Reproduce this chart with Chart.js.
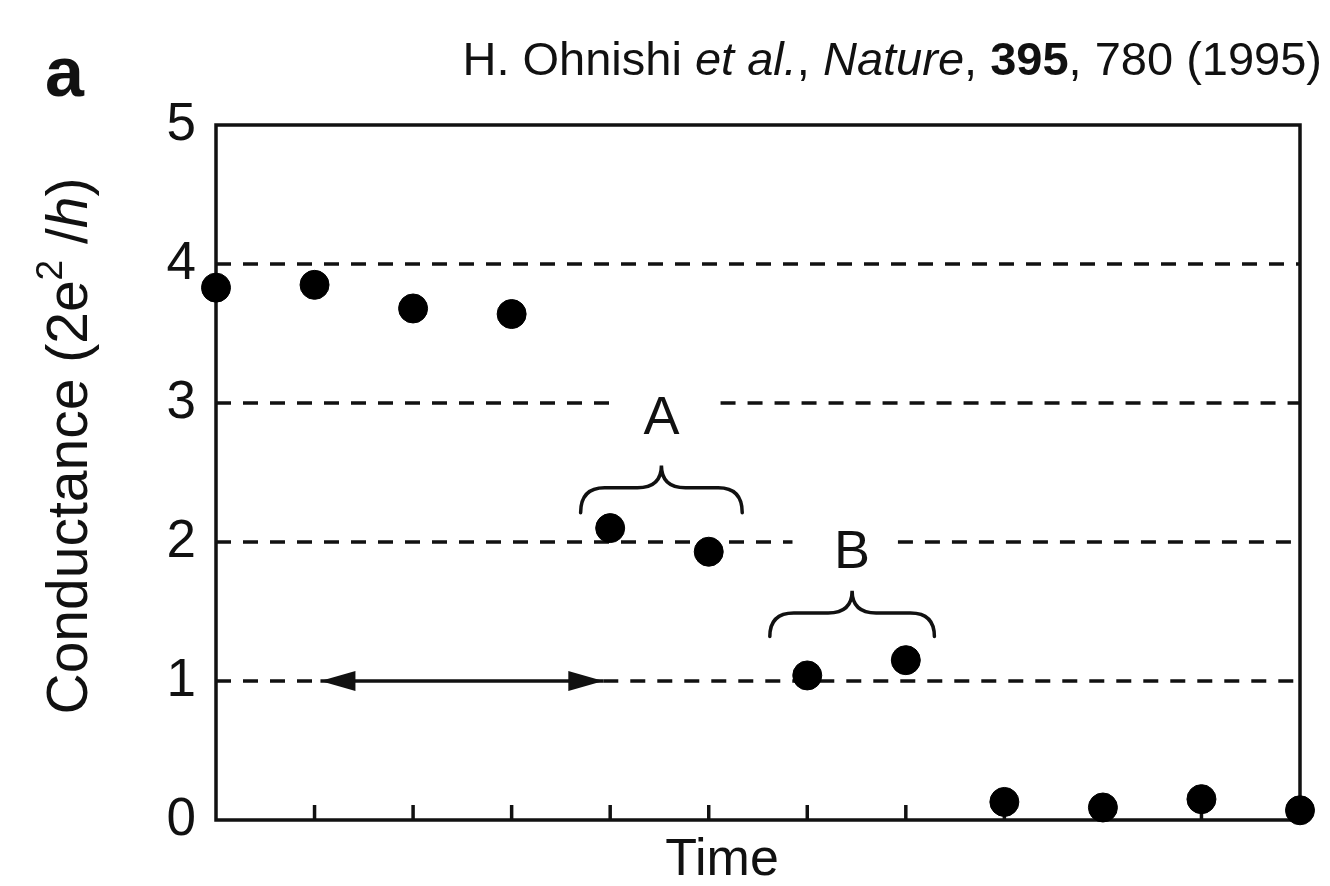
<!DOCTYPE html>
<html>
<head>
<meta charset="utf-8">
<script src="https://cdn.jsdelivr.net/npm/chart.js@4.4.1/dist/chart.umd.min.js"></script>
<style>
    html, body { margin: 0; padding: 0; background: #fff; }
    #wrap { width: 1330px; height: 886px; }
</style>
</head>
<body>
<div id="wrap"><canvas id="conductanceChart" width="1330" height="886"></canvas></div>
<script>
// values
const timeSteps = [0, 1, 2, 3, 4, 5, 6, 7, 8, 9, 10, 11];
const conductance = [3.83, 3.85, 3.68, 3.64, 2.10, 1.93, 1.04, 1.15, 0.13, 0.09, 0.15, 0.07];
const yTickValues = [0, 1, 2, 3, 4, 5];
const xTickValues = [1, 2, 3, 4, 5, 6, 7, 8, 9, 10];
const plateauLevels = [1, 2, 3, 4];

// dashed plateau segments per level (x in time units), gaps leave room for labels / arrow
const plateauSegments = {
    1: [[0, 1.06], [3.93, 11]],
    2: [[0, 5.85], [6.92, 11]],
    3: [[0, 4.05], [5.12, 11]],
    4: [[0, 11]]
};
const arrowSpan = [1.06, 3.93];
const arrowLevel = 1;

// braces and their labels, in data units
const braces = [
    { label: 'A', x0: 3.70, x1: 5.34, yEnd: 2.21, yMid: 2.39, yTip: 2.55, textY: 2.78 },
    { label: 'B', x0: 5.62, x1: 7.29, yEnd: 1.32, yMid: 1.49, yTip: 1.65, textY: 1.81 }
];

const FONT = '"Liberation Sans", Arial, Helvetica, sans-serif';
const INK = '#111111';

const datasets = [];
plateauLevels.forEach(function (level) {
    plateauSegments[level].forEach(function (seg) {
        datasets.push({
            type: 'line',
            data: [{ x: seg[0], y: level }, { x: seg[1], y: level }],
            borderColor: INK,
            borderWidth: 3.5,
            borderDash: [15, 12],
            pointRadius: 0,
            order: 2
        });
    });
});
datasets.push({
    type: 'line',
    data: [{ x: arrowSpan[0], y: arrowLevel }, { x: arrowSpan[1], y: arrowLevel }],
    borderColor: INK,
    borderWidth: 3.5,
    pointRadius: 0,
    order: 2
});
datasets.push({
    type: 'scatter',
    label: 'Conductance',
    data: timeSteps.map(function (t, i) { return { x: t, y: conductance[i] }; }),
    backgroundColor: '#000',
    borderColor: '#000',
    pointRadius: 14.5,
    pointHoverRadius: 14.5,
    clip: false,
    order: 0
});

function drawSegments(ctx, parts, x, y) {
    let cx = x;
    parts.forEach(function (p) {
        ctx.font = p.font;
        ctx.fillText(p.text, cx, y + (p.dy || 0));
        cx += ctx.measureText(p.text).width;
    });
}

function segmentsWidth(ctx, parts) {
    let w = 0;
    parts.forEach(function (p) {
        ctx.font = p.font;
        w += ctx.measureText(p.text).width;
    });
    return w;
}

const decorPlugin = {
    id: 'decor',
    beforeDatasetsDraw: function (chart) {
        const ctx = chart.ctx;
        const area = chart.chartArea;
        const xs = chart.scales.x;
        ctx.save();
        ctx.strokeStyle = INK;
        // inward ticks on the time axis
        ctx.lineWidth = 3.5;
        xTickValues.forEach(function (v) {
            const px = xs.getPixelForValue(v);
            ctx.beginPath();
            ctx.moveTo(px, area.bottom);
            ctx.lineTo(px, area.bottom - 15);
            ctx.stroke();
        });
        // frame
        ctx.lineWidth = 3.5;
        ctx.strokeRect(area.left, area.top, area.right - area.left, area.bottom - area.top);
        ctx.restore();
    },
    afterDatasetsDraw: function (chart) {
        const ctx = chart.ctx;
        const xs = chart.scales.x;
        const ys = chart.scales.y;
        ctx.save();
        ctx.fillStyle = INK;
        ctx.strokeStyle = INK;

        // arrow heads
        const ay = ys.getPixelForValue(arrowLevel);
        const ax0 = xs.getPixelForValue(arrowSpan[0]);
        const ax1 = xs.getPixelForValue(arrowSpan[1]);
        ctx.beginPath();
        ctx.moveTo(ax0, ay);
        ctx.lineTo(ax0 + 35, ay - 10);
        ctx.lineTo(ax0 + 35, ay + 10);
        ctx.closePath();
        ctx.fill();
        ctx.beginPath();
        ctx.moveTo(ax1, ay);
        ctx.lineTo(ax1 - 35, ay - 10);
        ctx.lineTo(ax1 - 35, ay + 10);
        ctx.closePath();
        ctx.fill();

        // braces + labels
        ctx.lineWidth = 3.5;
        ctx.lineCap = 'round';
        braces.forEach(function (b) {
            const x0 = xs.getPixelForValue(b.x0);
            const x1 = xs.getPixelForValue(b.x1);
            const xc = (x0 + x1) / 2;
            const yE = ys.getPixelForValue(b.yEnd);
            const yM = ys.getPixelForValue(b.yMid);
            const yT = ys.getPixelForValue(b.yTip);
            const r = 24;
            ctx.beginPath();
            ctx.moveTo(x0, yE);
            ctx.quadraticCurveTo(x0, yM, x0 + r, yM);
            ctx.lineTo(xc - r, yM);
            ctx.quadraticCurveTo(xc, yM, xc, yT);
            ctx.quadraticCurveTo(xc, yM, xc + r, yM);
            ctx.lineTo(x1 - r, yM);
            ctx.quadraticCurveTo(x1, yM, x1, yE);
            ctx.stroke();

            ctx.font = '54px ' + FONT;
            ctx.textAlign = 'center';
            ctx.textBaseline = 'alphabetic';
            ctx.fillText(b.label, xc, ys.getPixelForValue(b.textY));
        });

        // panel letter
        ctx.textAlign = 'left';
        ctx.font = 'bold 70px ' + FONT;
        ctx.fillText('a', 45, 96);

        // citation
        const cite = [
            { text: 'H. Ohnishi ', font: '47px ' + FONT },
            { text: 'et al.', font: 'italic 47px ' + FONT },
            { text: ', ', font: '47px ' + FONT },
            { text: 'Nature', font: 'italic 47px ' + FONT },
            { text: ', ', font: '47px ' + FONT },
            { text: '395', font: 'bold 47px ' + FONT },
            { text: ', 780 (1995)', font: '47px ' + FONT }
        ];
        drawSegments(ctx, cite, 1322 - segmentsWidth(ctx, cite), 75);

        // x title
        ctx.font = '52px ' + FONT;
        ctx.textAlign = 'center';
        ctx.fillText('Time', 722, 875);

        // y title (rotated)
        const ylab = [
            { text: 'Conductance (2e', font: '57px ' + FONT },
            { text: '2', font: '37px ' + FONT, dy: -25 },
            { text: ' /', font: '57px ' + FONT },
            { text: 'h', font: 'italic 57px ' + FONT },
            { text: ')', font: '57px ' + FONT }
        ];
        ctx.translate(87, 446);
        ctx.rotate(-Math.PI / 2);
        ctx.textAlign = 'left';
        drawSegments(ctx, ylab, -segmentsWidth(ctx, ylab) / 2, 0);
        ctx.restore();
    }
};

document.addEventListener('DOMContentLoaded', function () {
    if (typeof Chart === 'undefined') {
        console.error('Chart.js did not load.');
        return;
    }

    new Chart(document.getElementById('conductanceChart'), {
        type: 'scatter',
        data: { datasets: datasets },
        options: {
            responsive: false,
            devicePixelRatio: 1,
            animation: false,
            events: [],
            layout: { padding: { top: 125, right: 30, left: 0, bottom: 0 } },
            plugins: {
                legend: { display: false },
                tooltip: { enabled: false }
            },
            scales: {
                x: {
                    type: 'linear',
                    min: 0,
                    max: 11,
                    grid: { display: false },
                    border: { display: false },
                    ticks: { display: false },
                    afterFit: function (scale) { scale.height = 66; }
                },
                y: {
                    type: 'linear',
                    min: 0,
                    max: 5,
                    grid: { display: false, drawTicks: false },
                    border: { display: false },
                    afterBuildTicks: function (scale) {
                        scale.ticks = yTickValues.map(function (v) { return { value: v }; });
                    },
                    ticks: {
                        padding: 20,
                        color: INK,
                        font: { family: FONT, size: 53 }
                    },
                    afterFit: function (scale) { scale.width = 216; }
                }
            }
        },
        plugins: [decorPlugin]
    });
});
</script>
</body>
</html>
